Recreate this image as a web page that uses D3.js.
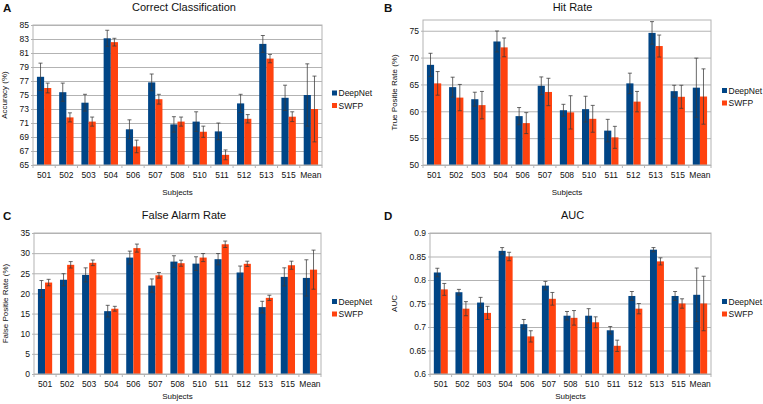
<!DOCTYPE html>
<html>
<head>
<meta charset="utf-8">
<script src="https://cdn.jsdelivr.net/npm/d3@7"></script>
<style>
    html, body { margin: 0; padding: 0; background: #fff; }
    svg { display: block; }
    .panel text { font-family: "Liberation Sans", Arial, sans-serif; fill: #111; }
    .grid line { stroke: #b3b3b3; stroke-width: 1; }
    .grid path { display: none; }
    .axis path, .axis line { stroke: #b3b3b3; }
</style>
</head>
<body>
<div id="chart"></div>
<script>
(function () {
    'use strict';

    // Shared categories and series
    var subjects = ['501', '502', '503', '504', '506', '507', '508', '510', '511', '512', '513', '515', 'Mean'];
    var seriesNames = ['DeepNet', 'SWFP'];
    var seriesColors = ['#004586', '#ff420e'];

    // A: Correct Classification (%)
    var accDeep = [77.6, 75.4, 73.9, 83.1, 70.1, 76.8, 70.8, 71.2, 69.8, 73.8, 82.3, 74.6, 75.0];
    var accDeepErr = [1.95, 1.3, 1.2, 1.15, 1.35, 1.2, 1.1, 1.4, 1.2, 1.3, 1.2, 1.8, 4.45];
    var accSwfp = [76.0, 71.8, 71.2, 82.55, 67.65, 74.4, 71.2, 69.75, 66.45, 71.6, 80.2, 71.9, 73.0];
    var accSwfpErr = [0.7, 0.65, 0.65, 0.55, 0.9, 0.7, 0.65, 0.8, 0.7, 0.6, 0.6, 0.7, 4.7];
    var accTicks = [65, 67, 69, 71, 73, 75, 77, 79, 81, 83, 85];

    // B: Hit Rate (%)
    var hitDeep = [68.65, 64.5, 62.25, 73.0, 59.1, 64.75, 60.2, 60.4, 56.4, 65.2, 74.6, 63.75, 64.4];
    var hitDeepErr = [2.15, 1.85, 1.3, 1.95, 1.6, 1.65, 1.1, 2.4, 2.1, 1.9, 2.1, 1.1, 5.5];
    var hitSwfp = [65.2, 62.55, 61.15, 71.9, 57.8, 63.6, 59.8, 58.6, 55.15, 61.8, 72.15, 62.7, 62.75];
    var hitSwfpErr = [2.2, 2.45, 2.55, 1.75, 1.95, 2.55, 3.1, 2.5, 2.05, 1.9, 2.05, 2.15, 5.15];
    var hitTicks = [50, 55, 60, 65, 70, 75];

    // C: False Alarm Rate (%)
    var faDeep = [21.1, 23.4, 24.6, 15.6, 28.9, 21.95, 27.9, 27.4, 28.5, 25.2, 16.6, 24.1, 23.85];
    var faDeepErr = [2.1, 1.5, 1.75, 1.45, 1.6, 1.65, 1.45, 1.7, 1.4, 1.6, 1.45, 2.25, 4.5];
    var faSwfp = [22.7, 27.1, 27.6, 16.2, 31.25, 24.5, 27.5, 28.9, 32.2, 27.35, 18.9, 27.0, 25.9];
    var faSwfpErr = [0.8, 0.8, 0.7, 0.6, 1.0, 0.7, 0.75, 1.0, 0.8, 0.65, 0.65, 1.0, 4.85];
    var faTicks = [0, 5, 10, 15, 20, 25, 30, 35];

    // D: AUC
    var aucDeep = [0.816, 0.774, 0.752, 0.862, 0.706, 0.788, 0.724, 0.724, 0.693, 0.766, 0.8645, 0.766, 0.7685];
    var aucDeepErr = [0.009, 0.006, 0.011, 0.007, 0.010, 0.009, 0.009, 0.015, 0.008, 0.0095, 0.0045, 0.0095, 0.057];
    var aucSwfp = [0.780, 0.739, 0.730, 0.850, 0.680, 0.760, 0.7195, 0.710, 0.660, 0.739, 0.8396, 0.750, 0.750];
    var aucSwfpErr = [0.0126, 0.015, 0.014, 0.009, 0.012, 0.0135, 0.0155, 0.0116, 0.012, 0.011, 0.0076, 0.010, 0.058];
    var aucTicks = [0.6, 0.65, 0.7, 0.75, 0.8, 0.85, 0.9];

    var width = 763;
    var height = 404;

    var panels = [
        { letter: 'A', title: 'Correct Classification', yLabel: 'Accuracy (%)',
          values: [accDeep, accSwfp], errors: [accDeepErr, accSwfpErr],
          ticks: accTicks, domain: [65, 85],
          x0: 0, left: 33, right: 322, top: 25, bottom: 165, titleY: 11, subjY: 195,
          yLabelX: 7, legendX: 332 },
        { letter: 'B', title: 'Hit Rate', yLabel: 'True Positie Rate (%)',
          values: [hitDeep, hitSwfp], errors: [hitDeepErr, hitSwfpErr],
          ticks: hitTicks, domain: [50, 77],
          x0: 381, left: 423, right: 711, top: 20, bottom: 165, titleY: 11, subjY: 195,
          yLabelX: 397, legendX: 722 },
        { letter: 'C', title: 'False Alarm Rate', yLabel: 'False Positie Rate (%)',
          values: [faDeep, faSwfp], errors: [faDeepErr, faSwfpErr],
          ticks: faTicks, domain: [0, 35],
          x0: 0, left: 34, right: 321, top: 233, bottom: 374, titleY: 219, subjY: 399,
          yLabelX: 8, legendX: 332 },
        { letter: 'D', title: 'AUC', yLabel: 'AUC',
          values: [aucDeep, aucSwfp], errors: [aucDeepErr, aucSwfpErr],
          ticks: aucTicks, domain: [0.6, 0.9],
          x0: 381, left: 430, right: 711, top: 233, bottom: 374, titleY: 219, subjY: 399,
          yLabelX: 397, legendX: 722 }
    ];

    var svg = d3.select('#chart').append('svg')
        .attr('width', width)
        .attr('height', height)
        .attr('viewBox', [0, 0, width, height]);

    function drawPanel(p) {
        var g = svg.append('g').attr('class', 'panel');
        var plotW = p.right - p.left;
        var plotH = p.bottom - p.top;

        var x = d3.scaleBand().domain(subjects).range([p.left, p.right]).padding(0);
        var inner = d3.scaleBand().domain(seriesNames).range([0, x.bandwidth()])
            .paddingInner(0).paddingOuter(0.55);
        var y = d3.scaleLinear().domain(p.domain).range([p.bottom, p.top]);

        // horizontal grid
        g.append('g')
            .attr('class', 'grid')
            .attr('transform', 'translate(' + p.left + ',0)')
            .call(d3.axisLeft(y).tickValues(p.ticks).tickSize(-plotW).tickFormat(''));

        // bars
        var rows = [];
        subjects.forEach(function (s, i) {
            seriesNames.forEach(function (name, k) {
                rows.push({ subject: s, series: name, k: k, v: p.values[k][i], e: p.errors[k][i] });
            });
        });

        g.append('g').selectAll('rect').data(rows).join('rect')
            .attr('x', function (d) { return x(d.subject) + inner(d.series); })
            .attr('y', function (d) { return y(d.v); })
            .attr('width', inner.bandwidth())
            .attr('height', function (d) { return p.bottom - y(d.v); })
            .attr('fill', function (d) { return seriesColors[d.k]; });

        // error bars
        var eb = g.append('g').attr('stroke', '#3a3a3a').attr('stroke-width', 0.9).attr('stroke-opacity', 0.85);
        var cap = 2;
        rows.forEach(function (d) {
            var cx = x(d.subject) + inner(d.series) + inner.bandwidth() / 2;
            var y1 = y(d.v + d.e);
            var y2 = y(d.v - d.e);
            eb.append('line').attr('x1', cx).attr('x2', cx).attr('y1', y1).attr('y2', y2);
            eb.append('line').attr('x1', cx - cap).attr('x2', cx + cap).attr('y1', y1).attr('y2', y1);
            eb.append('line').attr('x1', cx - cap).attr('x2', cx + cap).attr('y1', y2).attr('y2', y2);
        });

        // frame
        g.append('rect')
            .attr('x', p.left).attr('y', p.top)
            .attr('width', plotW).attr('height', plotH)
            .attr('fill', 'none').attr('stroke', '#b3b3b3');

        // y axis
        var yAxis = g.append('g')
            .attr('class', 'axis')
            .attr('transform', 'translate(' + p.left + ',0)')
            .call(d3.axisLeft(y).tickValues(p.ticks).tickSize(2).tickPadding(2)
                .tickFormat(function (d) { return String(d); }));
        yAxis.selectAll('text').style('font-size', '8.5px');
        yAxis.select('.domain').remove();

        // x axis (labels at band centres, tick marks at band edges)
        var xAxis = g.append('g')
            .attr('class', 'axis')
            .attr('transform', 'translate(0,' + p.bottom + ')')
            .call(d3.axisBottom(x).tickSize(0).tickPadding(7));
        xAxis.selectAll('text').style('font-size', '8.5px');
        xAxis.select('.domain').remove();

        var edges = subjects.map(function (s) { return x(s); }).concat([p.right]);
        g.append('g').selectAll('line').data(edges).join('line')
            .attr('x1', function (d) { return d; })
            .attr('x2', function (d) { return d; })
            .attr('y1', p.bottom)
            .attr('y2', p.bottom + 3)
            .attr('stroke', '#b3b3b3');

        // titles
        g.append('text')
            .attr('x', p.x0 + 3)
            .attr('y', p.titleY + 1)
            .style('font-size', '11.5px')
            .style('font-weight', 'bold')
            .text(p.letter);

        g.append('text')
            .attr('x', p.x0 + 191.5 + (p.x0 ? 0 : -7.5))
            .attr('y', p.titleY)
            .attr('text-anchor', 'middle')
            .style('font-size', '11px')
            .text(p.title);

        g.append('text')
            .attr('x', (p.left + p.right) / 2)
            .attr('y', p.subjY)
            .attr('text-anchor', 'middle')
            .style('font-size', '8px')
            .text('Subjects');

        var ly = (p.top + p.bottom) / 2;
        g.append('text')
            .attr('transform', 'translate(' + p.yLabelX + ',' + ly + ') rotate(-90)')
            .attr('text-anchor', 'middle')
            .style('font-size', '8px')
            .text(p.yLabel);

        // legend
        var leg = g.append('g').attr('transform', 'translate(' + p.legendX + ',' + (ly - 2) + ')');
        seriesNames.forEach(function (name, k) {
            leg.append('rect')
                .attr('x', 0).attr('y', k * 12.5 - 2.5)
                .attr('width', 5).attr('height', 5)
                .attr('fill', seriesColors[k]);
            leg.append('text')
                .attr('x', 6.5).attr('y', k * 12.5 + 3)
                .style('font-size', '8.5px')
                .text(name);
        });
    }

    panels.forEach(drawPanel);
})();
</script>
</body>
</html>
